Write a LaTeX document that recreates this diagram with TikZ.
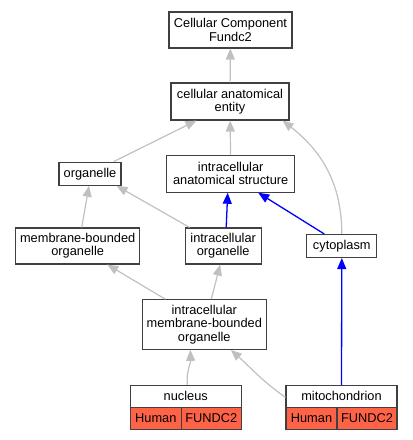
\documentclass[tikz,border=0pt]{standalone}
\usepackage{fontspec}
\setmainfont{Liberation Sans}
\usetikzlibrary{arrows.meta, positioning}
\definecolor{edgegray}{RGB}{192,192,192}
\definecolor{genered}{RGB}{255,99,71}
\tikzstyle{term} = [rectangle, 
draw=black!75, 
line width=1.1pt, 
fill=white, 
align=center, 
inner sep=1pt, 
font=\fontsize{12.8}{13.3}\selectfont]
\tikzstyle{cell} = [term, fill=genered]
\tikzstyle{isa} = [-{Triangle[length=11pt,width=9pt]}, draw=edgegray, line width=1.2pt]
\tikzstyle{partof} = [-{Triangle[length=11pt,width=9pt]}, draw=blue, line width=1.3pt]

\begin{document}
\begin{tikzpicture}[x=1pt, y=-1pt]
		
		% Canvas (pixel grid of the reference, y pointing down)
		\useasboundingbox (0,0) rectangle (413,440);
		
		\node[term, minimum width=123pt, minimum height=36pt] (ccf) at (230.5,30) {Cellular Component\\Fundc2};
		\node[term, minimum width=118pt, minimum height=37pt] (cae) at (230,101.5) {cellular anatomical\\entity};
		
		\node[term, minimum width=62pt, minimum height=23pt] (org) at (90,173.7) {organelle};
		\node[term, minimum width=128pt, minimum height=37pt] (ias) at (230.7,173.7) {intracellular\\anatomical structure};
		
		\node[term, minimum width=124pt, minimum height=36pt] (mbo) at (77.7,246) {membrane-bounded\\organelle};
		\node[term, minimum width=76pt, minimum height=36pt] (io) at (223.2,246) {intracellular\\organelle};
		\node[term, minimum width=70pt, minimum height=23pt] (cyto) at (341.8,246) {cytoplasm};
		
		\node[term, minimum width=124pt, minimum height=49.6pt] (imbo) at (204.3,324.5) {intracellular\\membrane-bounded\\organelle};
		
		% annotated terms
		\node[term, minimum width=111pt, minimum height=22pt] (nuc) at (185.8,396.3) {nucleus};
		\node[cell, minimum width=51pt, minimum height=21.7pt] (nuchs) at (155.8,418.2) {Human};
		\node[cell, minimum width=60pt, minimum height=21.7pt] (nucgene) at (211.3,418.2) {FUNDC2};
		
		\node[term, minimum width=111pt, minimum height=22pt] (mito) at (341.5,396.3) {mitochondrion};
		\node[cell, minimum width=51pt, minimum height=21.7pt] (mitohs) at (311.5,418.2) {Human};
		\node[cell, minimum width=60pt, minimum height=21.7pt] (mitogene) at (367,418.2) {FUNDC2};
		
		% Edges
		\draw[isa] (cae) -- (ccf);
		\draw[isa] ([xshift=-8pt]org.north east) -- ([xshift=26pt]cae.south west);
		\draw[isa] (ias) -- (cae);
		\draw[isa] (cyto.north) to[out=90, in=-38] ([xshift=-7pt]cae.south east);
		
		\draw[isa] ([xshift=4pt]mbo.north) -- ([xshift=-1pt]org.south);
		\draw[isa] ([xshift=5pt]io.north west) -- ([xshift=-5pt]org.south east);
		\draw[partof] ([xshift=3pt]io.north) -- ([xshift=-3pt]ias.south);
		\draw[partof] ([xshift=18pt]cyto.north west) -- ([xshift=-37pt]ias.south east);
		
		\draw[isa] ([xshift=-39pt]imbo.north) -- ([xshift=-33pt]mbo.south east);
		\draw[isa] ([xshift=7pt]imbo.north) -- ([xshift=-3pt]io.south);
		
		\draw[isa] ([xshift=1.5pt]nuc.north) to[out=95, in=-88] ([xshift=-14pt]imbo.south);
		\draw[isa] ([yshift=-1pt]mito.west) to[out=145, in=-42] ([xshift=-36pt]imbo.south east);
		\draw[partof] (mito) -- (cyto);
		
	\end{tikzpicture}
\end{document}
